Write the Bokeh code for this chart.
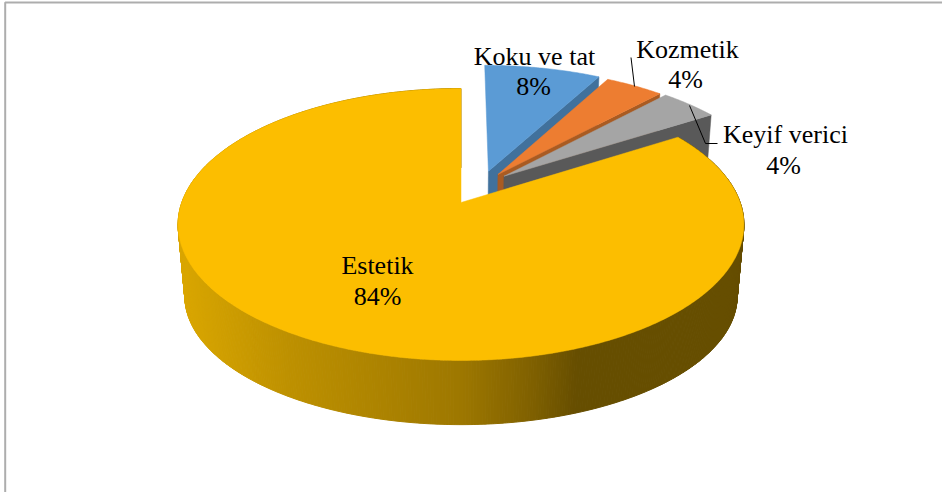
import numpy as np
from bokeh.plotting import figure
from bokeh.embed import file_html
from bokeh.resources import INLINE
from bokeh.core.properties import value

# --- data ---
categories = ["Estetik", "Koku ve tat", "Kozmetik", "Keyif verici"]
shares = [84, 8, 4, 4]

# --- styles ---
top_colors = ["#FCBE00", "#5B9BD5", "#ED7D31", "#A5A5A5"]
wall_colors = [None, "#41719C", "#A95B22", "#595959"]
explode_v = [0.0, 0.102, 0.137, 0.159]
explode_n = [0.0, 0.245, 0.219, 0.205]
label_x = [377, 534, 687, 785]
pct_x = [377, 533, 685, 783]
label_y1 = [265, 56, 49, 134]
label_y2 = [296, 86, 79, 165]

# --- projection of the 3D pie ---
X0, Y0_TOP, A_TOP, B_TOP = 460.5, 202.0, 279.2, 132.4
Y0_BASE, A_BASE, B_BASE = 275.0, 272.5, 125.0
PERSP = 0.1618


def project(v, n, base=False):
    a, b, y0 = (A_BASE, B_BASE, Y0_BASE) if base else (A_TOP, B_TOP, Y0_TOP)
    d = 1 + PERSP * n
    return X0 + a * v / d, y0 - b * n / d


def rim(t0, t1, dv, dn, base=False):
    k = max(int(abs(t1 - t0) * 2), 2)
    t = np.radians(np.linspace(t0, t1, k + 1))
    return project(np.sin(t) + dv, np.cos(t) + dn, base)


# slices run clockwise from 12 o'clock: small slices first, the big one closes the circle
order = [1, 2, 3, 0]
edges = {}
acc = 0.0
for i in order:
    edges[i] = (acc, acc + shares[i] / sum(shares) * 360)
    acc = edges[i][1]

p = figure(width=942, height=492, x_range=(0, 942), y_range=(492, 0),
           min_border=0, outline_line_color=None, toolbar_location=None,
           output_backend="svg", x_axis_location=None, y_axis_location=None,
           background_fill_color="white", border_fill_color="white")
p.grid.visible = False

# frame
p.line([4.7, 4.7, 942], [492, 2, 2], line_color="#ADADAD", line_width=2)

# exploded slices, back to front
for i in [1, 2, 3]:
    t0, t1 = edges[i]
    dv, dn = explode_v[i], explode_n[i]
    ax, ay = project(dv, dn)
    bx, by = project(dv, dn, True)
    tx, ty = rim(t0, t1, dv, dn)
    gx, gy = rim(t0, t1, dv, dn, True)
    # cut face on the clockwise edge of the slice, plus the base outline
    p.patch([ax, tx[-1], gx[-1], bx], [ay, ty[-1], gy[-1], by],
            fill_color=wall_colors[i], line_color=wall_colors[i], line_width=0.5)
    p.patch([ax, *tx], [ay, *ty], fill_color=top_colors[i],
            line_color=top_colors[i], line_width=0.5)

# large slice: outer wall with a horizontal shading
stop_x = [170, 290, 460, 530, 575, 760]
stop_r = [222, 190, 158, 128, 102, 102]
stop_g = [170, 145, 120, 97, 78, 78]
t0, t1 = edges[0]
tx, ty = rim(t0, t1, 0, 0)
gx, gy = rim(t0, t1, 0, 0, True)
xs, ys, cols = [], [], []
for k in range(len(tx) - 1):
    xs.append([tx[k], tx[k + 1], gx[k + 1], gx[k]])
    ys.append([ty[k], ty[k + 1], gy[k + 1], gy[k]])
    xm = (gx[k] + gx[k + 1]) / 2
    cols.append("#%02x%02x00" % (int(np.interp(xm, stop_x, stop_r)),
                                 int(np.interp(xm, stop_x, stop_g))))
p.patches(xs, ys, fill_color=cols, line_color=cols, line_width=1)

ax, ay = project(0, 0)
p.patch([ax, *tx], [ay, *ty], fill_color=top_colors[0],
        line_color=top_colors[0], line_width=0.5)

# leader lines
p.line([630.5, 634], [57, 86], line_color="black", line_width=1)
p.line([689, 705, 717], [105, 143, 143], line_color="black", line_width=1)

# labels
pcts = [f"{s}%" for s in shares]
font = value("Liberation Serif")
p.text(label_x, label_y1, text=categories, text_font=font,
       text_font_size="26px", text_align="center", text_baseline="alphabetic",
       text_color="black")
p.text(pct_x, label_y2, text=pcts, text_font=font,
       text_font_size="26px", text_align="center", text_baseline="alphabetic",
       text_color="black")

open("out.html", "w").write(file_html(p, INLINE))
